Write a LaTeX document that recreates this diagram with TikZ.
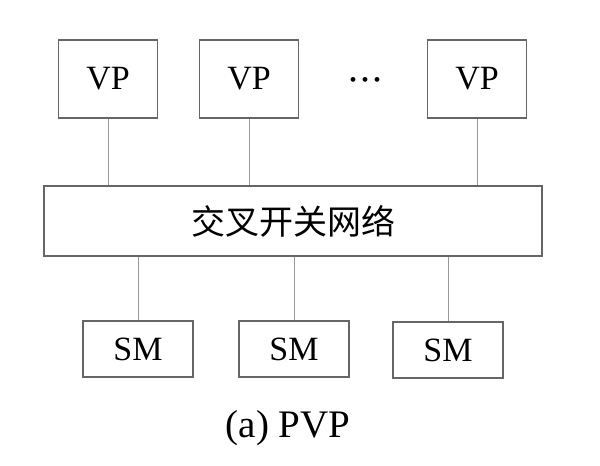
\documentclass[tikz,border=0pt]{standalone}
\usepackage{fontspec}
\setmainfont{Liberation Serif}
\newfontfamily\cjk{Noto Sans CJK SC}
\usetikzlibrary{positioning}

\begin{document}
\begin{tikzpicture}[
  x=1pt, y=-1pt,
  font=\fontsize{34}{36}\selectfont,
  box/.style  = {draw=black!60, line width=1.6pt, fill=white, inner sep=0pt},
  vp/.style   = {box, minimum width=99pt, minimum height=78pt},
  sm/.style   = {box, minimum width=110pt, minimum height=56pt},
  net/.style  = {box, minimum width=498pt, minimum height=70pt,
                 font=\cjk\fontsize{34}{36}\selectfont},
  ln/.style   = {draw=black!40, line width=0.9pt},
]
\useasboundingbox (0,0) rectangle (600,466);

% ---- processors ------------------------------------------------------------
\node[vp] (vp1) at (108,79)  {VP};
\node[vp] (vp2) at (249,79)  {VP};
\node[vp] (vp3) at (477,79)  {VP};
\node[font=\fontsize{20}{20}\selectfont] (dots) at (365,82)
  {•\hspace{5pt}•\hspace{5pt}•};

% ---- crossbar --------------------------------------------------------------
\node[net] (xbar) at (293,221) {交叉开关网络};

\draw[ln] (vp1.south) -- (vp1.south |- xbar.north);
\draw[ln] (vp2.south) -- (vp2.south |- xbar.north);
\draw[ln] (vp3.south) -- (vp3.south |- xbar.north);

% ---- memories --------------------------------------------------------------
\node[sm] (sm1) at (138,349) {SM};
\node[sm] (sm2) at (294,349) {SM};
\node[sm] (sm3) at (448,350) {SM};

\draw[ln] (sm1.north) -- (sm1.north |- xbar.south);
\draw[ln] (sm2.north) -- (sm2.north |- xbar.south);
\draw[ln] (sm3.north) -- (sm3.north |- xbar.south);

\node[font=\fontsize{39}{42}\selectfont] (cap) at (288,428) {(a) PVP};

\end{tikzpicture}
\end{document}
